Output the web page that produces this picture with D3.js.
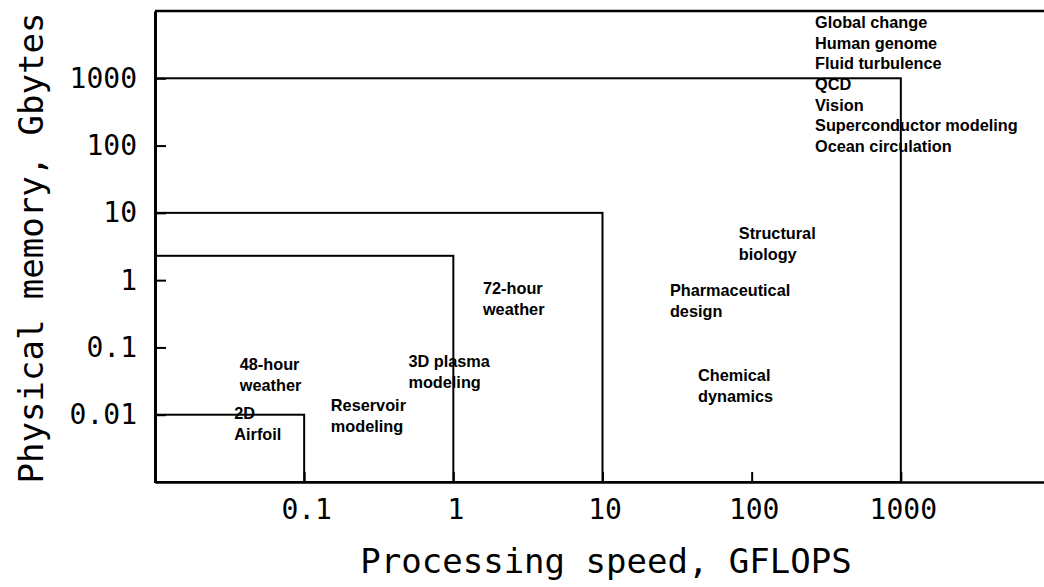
<!DOCTYPE html>
<html>
<head>
<meta charset="utf-8">
<script src="https://cdn.jsdelivr.net/npm/d3@7"></script>
<style>
  html, body { margin: 0; padding: 0; background: #fff; }
  svg { display: block; }
  .tick text { font-family: "DejaVu Sans Mono", monospace; font-size: 28px; fill: #000; }
  .lbl { font-family: "Liberation Sans", Arial, sans-serif; font-weight: bold; font-size: 16.3px; fill: #000; }
  .title { font-family: "DejaVu Sans Mono", monospace; font-size: 34px; fill: #000; }
</style>
</head>
<body>
<script>
// ---- data ----
const xTickValues = [0.1, 1, 10, 100, 1000];
const xTickLabels = ["0.1", "1", "10", "100", "1000"];
const yTickValues = [0.01, 0.1, 1, 10, 100, 1000];
const yTickLabels = ["0.01", "0.1", "1", "10", "100", "1000"];

// requirement boxes: processing speed (GFLOPS) and memory (Gbytes) limits
const boxSpeed  = [1000, 10, 1, 0.1];
const boxMemory = [1000, 10, 2.3, 0.01];

// application labels (anchor in data units: GFLOPS, Gbytes)
const appNames = [
  ["48-hour", "weather"],
  ["2D", "Airfoil"],
  ["Reservoir", "modeling"],
  ["3D plasma", "modeling"],
  ["72-hour", "weather"],
  ["Pharmaceutical", "design"],
  ["Structural", "biology"],
  ["Chemical", "dynamics"],
  ["Global change", "Human genome", "Fluid turbulence", "QCD", "Vision", "Superconductor modeling", "Ocean circulation"]
];
const appSpeed  = [0.037, 0.034, 0.151, 0.50, 1.58, 28.3, 82, 43.7, 266];
const appMemory = [0.057, 0.0106, 0.014, 0.063, 0.76, 0.71, 5.0, 0.039, 6900];

const xTitle = "Processing speed, GFLOPS";
const yTitle = "Physical memory, Gbytes";

// ---- chart ----
const W = 1044, H = 587;
const svg = d3.select("body").append("svg").attr("width", W).attr("height", H);

const x = d3.scaleLog().domain([0.01, 10000]).range([155, 1050]);
const y = d3.scaleLog().domain([0.001, 10000]).range([482, 11]);

// boxes
svg.append("g").selectAll("rect").data(boxSpeed.map((s, i) => ({s, m: boxMemory[i]})))
  .join("rect")
  .attr("x", x(0.01))
  .attr("y", d => y(d.m))
  .attr("width", d => x(d.s) - x(0.01))
  .attr("height", d => y(0.001) - y(d.m))
  .attr("fill", "none")
  .attr("stroke", "#000")
  .attr("stroke-width", 2);

// top frame line
svg.append("line")
  .attr("x1", x(0.01)).attr("x2", W + 5)
  .attr("y1", y(10000)).attr("y2", y(10000))
  .attr("stroke", "#000").attr("stroke-width", 2.5);

// axes
const yAxis = d3.axisLeft(y).tickValues(yTickValues)
  .tickFormat((d, i) => yTickLabels[i]).tickSizeInner(-11).tickSizeOuter(0).tickPadding(18);
const gy = svg.append("g").attr("transform", `translate(${x(0.01)},0)`).call(yAxis);
gy.select(".domain").attr("stroke-width", 3);
gy.selectAll(".tick line").attr("stroke-width", 2);

const xAxis = d3.axisBottom(x).tickValues(xTickValues)
  .tickFormat((d, i) => xTickLabels[i]).tickSizeInner(-10).tickSizeOuter(0).tickPadding(17);
const gx = svg.append("g").attr("transform", `translate(0,${y(0.001)})`).call(xAxis);
gx.select(".domain").attr("stroke-width", 2.5);
gx.selectAll(".tick line").attr("stroke-width", 2);
gx.selectAll(".tick text").attr("dx", 2);

// fonts set via class; remove default d3 font attrs
svg.selectAll("g").attr("font-family", null).attr("font-size", null);

// application labels
const lg = svg.append("g");
appNames.forEach((lines, i) => {
  const t = lg.append("text").attr("class", "lbl")
    .attr("x", x(appSpeed[i])).attr("y", y(appMemory[i]))
    .attr("dominant-baseline", "central");
  lines.forEach((s, j) => {
    t.append("tspan").attr("x", x(appSpeed[i])).attr("dy", j === 0 ? 0 : 20.7).text(s);
  });
});

// titles
svg.append("text").attr("class", "title")
  .attr("x", 606).attr("y", 573).attr("text-anchor", "middle").text(xTitle);
svg.append("text").attr("class", "title")
  .attr("transform", "translate(43,248) rotate(-90)")
  .attr("text-anchor", "middle").text(yTitle);
</script>
</body>
</html>
